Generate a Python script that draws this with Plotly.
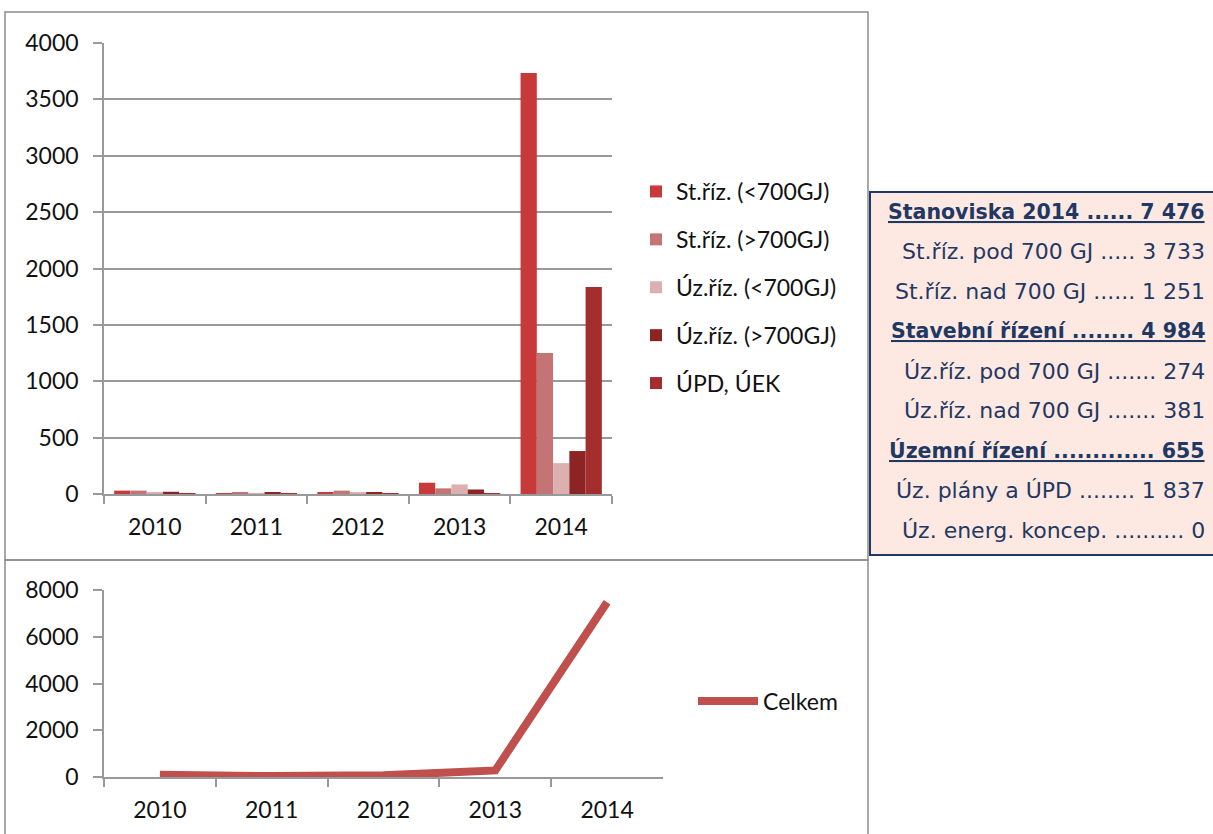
import plotly.graph_objects as go

years = ["2010", "2011", "2012", "2013", "2014"]
st_pod = [30, 3, 15, 100, 3733]
st_nad = [30, 15, 30, 50, 1251]
uz_pod = [10, 3, 10, 85, 274]
uz_nad = [20, 12, 12, 40, 381]
upd = [5, 5, 5, 5, 1837]
celkem = [95, 38, 72, 280, 7476]

bar_names = ["St.říz. (<700GJ)", "St.říz. (>700GJ)", "Úz.říz. (<700GJ)", "Úz.říz. (>700GJ)", "ÚPD, ÚEK"]
bar_values = [st_pod, st_nad, uz_pod, uz_nad, upd]
bar_colors = ["#C83A3A", "#C47474", "#DDB0B0", "#8C2424", "#A42E2E"]

box_lines = [
    ("Stanoviska 2014 ...... 7 476", True),
    ("St.říz. pod 700 GJ ..... 3 733", False),
    ("St.říz. nad 700 GJ ...... 1 251", False),
    ("Stavební řízení ........ 4 984", True),
    ("Úz.říz. pod 700 GJ ....... 274", False),
    ("Úz.říz. nad 700 GJ ....... 381", False),
    ("Územní řízení ............. 655", True),
    ("Úz. plány a ÚPD ........ 1 837", False),
    ("Úz. energ. koncep. .......... 0", False),
]

W, H = 1213, 834
def px(x):
    return x / W
def py(y):
    return 1 - y / H

FONT = "Lato"
fig = go.Figure()

for name, vals, col in zip(bar_names, bar_values, bar_colors):
    fig.add_trace(go.Bar(x=years, y=vals, name=name, marker=dict(color=col, line=dict(width=0)),
                         xaxis="x", yaxis="y", legend="legend", legendgroup=name))

fig.add_trace(go.Scatter(x=years, y=celkem, name="Celkem", mode="lines",
                         line=dict(color="#C0504D", width=8), xaxis="x2", yaxis="y2",
                         legend="legend2"))

axis_common = dict(showline=True, linecolor="#999999", linewidth=1.5, ticks="outside",
                   tickcolor="#999999", tickwidth=1.5,
                   tickfont=dict(family=FONT, size=23, color="#111"))

fig.update_layout(
    width=W, height=H, margin=dict(l=0, r=0, t=0, b=0, autoexpand=False),
    paper_bgcolor="white", plot_bgcolor="white",
    barmode="group", bargap=0.2, bargroupgap=0,
    showlegend=True,
    xaxis=dict(domain=[px(104), px(612)], anchor="y", type="category", tickson="boundaries",
               range=[-0.5, 4.5], ticklen=8, ticklabelstandoff=12, **axis_common),
    yaxis=dict(domain=[py(494), py(43)], anchor="x", range=[0, 4000], dtick=500,
               showgrid=True, gridcolor="#999999", gridwidth=1.5, ticklen=9,
               ticklabelstandoff=10, zeroline=False, **axis_common),
    xaxis2=dict(domain=[px(104), px(663)], anchor="y2", type="category", tickson="boundaries",
                range=[-0.5, 4.5], ticklen=8, ticklabelstandoff=12, **axis_common),
    yaxis2=dict(domain=[py(777), py(590)], anchor="x2", range=[0, 8000], dtick=2000,
                showgrid=False, ticklen=9, ticklabelstandoff=10, zeroline=False, **axis_common),
    legend=dict(x=px(636), y=py(170), xanchor="left", yanchor="top",
                font=dict(family=FONT, size=23, color="#111"), traceorder="grouped",
                tracegroupgap=15, bgcolor="rgba(0,0,0,0)", itemwidth=30),
    legend2=dict(x=px(693), y=py(701), xanchor="left", yanchor="middle",
                 font=dict(family=FONT, size=23, color="#111"), itemwidth=60,
                 bgcolor="rgba(0,0,0,0)"),
)

shapes = [
    dict(type="rect", xref="paper", yref="paper", x0=px(5), x1=px(868), y0=py(560), y1=py(12),
         line=dict(color="#8c8c8c", width=1.5), fillcolor="rgba(0,0,0,0)", layer="below"),
    dict(type="rect", xref="paper", yref="paper", x0=px(5), x1=px(868), y0=py(840), y1=py(560),
         line=dict(color="#8c8c8c", width=1.5), fillcolor="rgba(0,0,0,0)", layer="below"),
    dict(type="rect", xref="paper", yref="paper", x0=px(870), x1=px(1215), y0=py(555), y1=py(192),
         line=dict(color="#1F3864", width=2), fillcolor="#FDE9E1", layer="below"),
]
fig.update_layout(shapes=shapes)

ys = [212, 251, 291, 331, 371, 410, 450, 490, 530]
for (txt, hdr), yy in zip(box_lines, ys):
    if hdr:
        f = dict(family="DejaVu Sans", size=20.5, color="#1F3864", weight="bold",
                 lineposition="under")
    else:
        f = dict(family="DejaVu Sans", size=22, color="#1F3864")
    fig.add_annotation(text=txt, x=px(1207), y=py(yy), xref="paper", yref="paper",
                       xanchor="right", yanchor="middle", showarrow=False, font=f)

fig.write_html("out.html", config={"displayModeBar": False})
with open("out.html", "r", encoding="utf-8") as fh:
    html = fh.read()
html = html.replace("<head>", "<head><style>html,body{margin:0;padding:0;overflow:hidden;}</style>", 1)
with open("out.html", "w", encoding="utf-8") as fh:
    fh.write(html)
